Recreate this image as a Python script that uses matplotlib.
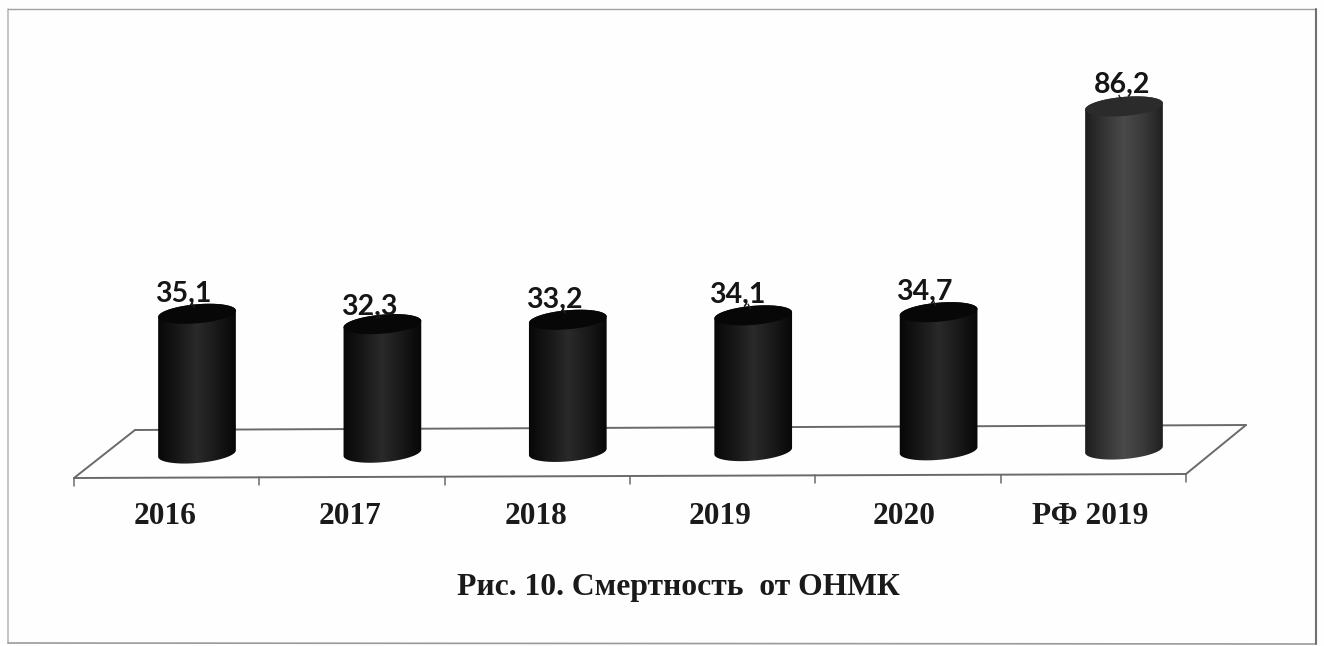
import numpy as np
import matplotlib
matplotlib.use("Agg")
import matplotlib.pyplot as plt
from matplotlib.colors import LinearSegmentedColormap
from matplotlib.patches import Polygon
from matplotlib.transforms import Affine2D, IdentityTransform

categories = ["2016", "2017", "2018", "2019", "2020", "РФ 2019"]
values = [35.1, 32.3, 33.2, 34.1, 34.7, 86.2]
value_labels = ["35,1", "32,3", "33,2", "34,1", "34,7", "86,2"]
title = "Рис. 10. Смертность  от ОНМК"

W, H, DPI = 1324, 646, 100
X0, DX = 197.0, 185.4
Y0, SY = 453.5, 3.98

fig = plt.figure(figsize=(W / DPI, H / DPI), dpi=DPI, facecolor="#fefefe")
ax = fig.add_axes([0, 0, 1, 1])
ax.set_xlim(-X0 / DX, (W - X0) / DX)
ax.set_ylim((Y0 - H) / SY, Y0 / SY)
ax.axis("off")

px = Affine2D().scale(1, -1).translate(0, H)


def line(xs, ys, color="#6a6a6a", lw=1.4, z=1):
    ax.plot(xs, ys, color=color, lw=lw, transform=px, zorder=z, solid_capstyle="round")


# outer frame
line([8, 8], [9, 643], "#b4b4b4", 1.1)
line([8, 1316], [9, 9], "#a0a0a0", 1.0)
line([8, 1316], [643, 644], "#9a9a9a", 1.2)
line([1316, 1316], [9, 644], "#707070", 1.5)

# floor
line([74, 1186], [478, 474])
line([135, 1246], [430, 425])
line([74, 135], [478, 430])
line([1186, 1246], [474, 425])
n = len(categories)
for i in range(n + 1):
    x = 74 + (1186 - 74) * i / n
    y = 478 - 4 * i / n
    line([x, x], [y, y + 8], lw=1.1)


def ell(cx, cy, t, a=39.0, b=9.5, th=np.radians(5)):
    xx = a * np.cos(t)
    yy = b * np.sin(t)
    return np.c_[cx + xx * np.cos(th) - yy * np.sin(th),
                 cy + xx * np.sin(th) + yy * np.cos(th)]


dark = LinearSegmentedColormap.from_list("d", ["#050505", "#161616", "#2a2a2a", "#181818", "#040404"])
light = LinearSegmentedColormap.from_list("l", ["#1a1a1a", "#333333", "#4a4a4a", "#383838", "#1c1c1c"])
grad = np.linspace(0, 1, 256)[None, :]

# x offset, y offset (pixels) of the value label relative to the top of its cylinder
label_dx = [-14, -13.5, -14, -16, -14, -2]
label_dy = [20, 18, 22, 23, 24, 26]
# offset of the category label centre from its cylinder centre
cat_dx = [-32, -32, -32, -33, -34, -34]

for i, (v, lab) in enumerate(zip(values, value_labels)):
    drift = -0.8 * i
    bx, by = ax.transData.transform((i, 0))
    tx, ty = ax.transData.transform((i, v))
    by -= drift
    ty -= drift
    is_rf = categories[i].startswith("РФ")
    ts = np.linspace(0, 2 * np.pi, 120)
    lower = np.linspace(np.pi, 2 * np.pi, 60)
    upper = np.linspace(0, np.pi, 60)
    outline = np.vstack([ell(bx, by, lower), ell(tx, ty, upper)])
    body = Polygon(outline, closed=True, transform=IdentityTransform(),
                   facecolor="none", edgecolor="none", zorder=3)
    ax.add_patch(body)
    xa = (i - 42 / DX, i + 42 / DX)
    im = ax.imshow(grad, cmap=light if is_rf else dark, aspect="auto",
                   extent=(xa[0], xa[1], -10, v + 10), zorder=3, interpolation="bilinear")
    im.set_clip_path(body)
    cap = Polygon(ell(tx, ty, ts), closed=True, transform=IdentityTransform(),
                  facecolor="#2b2b2b" if is_rf else "#070707",
                  edgecolor="none", zorder=4)
    ax.add_patch(cap)
    ax.annotate(lab, xy=(i, v), xytext=(label_dx[i] * 72 / DPI, label_dy[i] * 72 / DPI),
                textcoords="offset points", ha="center", va="center",
                family="Lato", weight="bold", fontsize=20.5, color="#151515", zorder=6)
    # short leader from label to cylinder
    ax.plot([tx - 3, tx - 5], [ty + 7, ty + 11], color="#222222", lw=1,
            transform=IdentityTransform(), zorder=5)
    ax.text(X0 + cat_dx[i] + DX * i, 517, categories[i], transform=px,
            ha="center", va="center", family="Liberation Serif", weight="bold",
            fontsize=22.6, color="#1a1a1a", zorder=6)

ax.set_xlim(-X0 / DX, (W - X0) / DX)
ax.set_ylim((Y0 - H) / SY, Y0 / SY)

ax.text(678, 587, title, transform=px, ha="center", va="center",
        family="Liberation Serif", weight="bold", fontsize=22.8, color="#1a1a1a", zorder=6)

fig.savefig("out.png", dpi=DPI, facecolor=fig.get_facecolor())
